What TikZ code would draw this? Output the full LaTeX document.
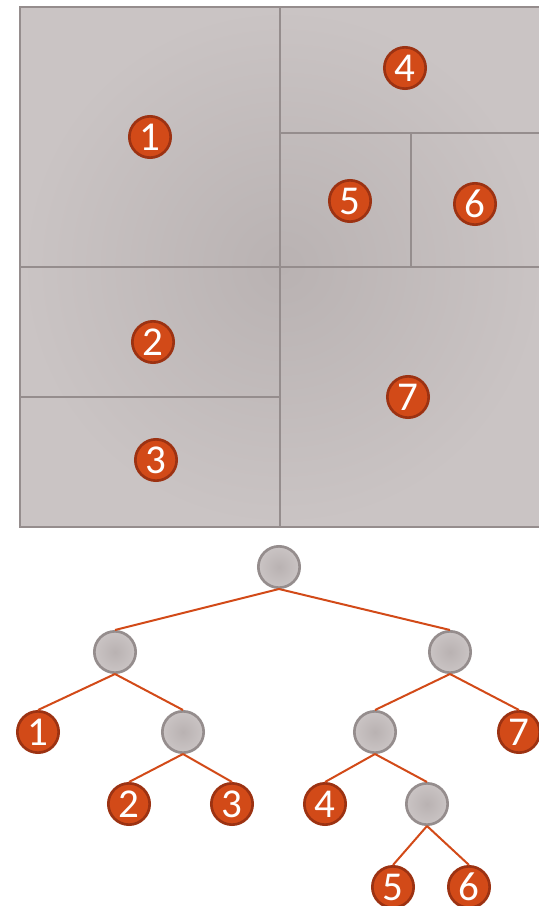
\documentclass[tikz,border=0pt]{standalone}
\usepackage{fontspec}
\setmainfont{Carlito}
\definecolor{leafred}{HTML}{D24A18}
\definecolor{leafrim}{HTML}{9C3212}
\definecolor{cellgrey}{HTML}{CAC4C4}
\definecolor{celldark}{HTML}{B9B2B2}
\definecolor{rimgrey}{HTML}{958D8D}
\tikzset{
  leaf/.style={circle, draw=leafrim, fill=leafred, line width=0.08cm, minimum size=1.24cm, inner sep=0pt, text=white, font=\fontsize{35}{35}\selectfont},
  split/.style={circle, draw=rimgrey, line width=0.08cm, minimum size=1.24cm, inner sep=0pt, shade, inner color=celldark, outer color=cellgrey},
  branch/.style={draw=leafred, line width=0.06cm},
  wall/.style={draw=rimgrey, line width=0.075cm}
}
\begin{document}
\begin{tikzpicture}[x=0.03cm,y=-0.03cm]
\useasboundingbox (0,0) rectangle (539,906);

% the partition
\shade[inner color=celldark, outer color=cellgrey] (20,7) rectangle (545,527);
\draw[wall] (20,7) rectangle (545,527);
\draw[wall] (280,7) -- (280,527);
\draw[wall] (20,267) -- (545,267);
\draw[wall] (280,133) -- (545,133);
\draw[wall] (411,133) -- (411,267);
\draw[wall] (20,397) -- (280,397);

\node[leaf] (c1) at (150,137) {1};
\node[leaf] (c2) at (153,342) {2};
\node[leaf] (c3) at (156,460) {3};
\node[leaf] (c4) at (405,68) {4};
\node[leaf] (c5) at (350,201) {5};
\node[leaf] (c6) at (475,204) {6};
\node[leaf] (c7) at (408,397) {7};

% the tree
\node[split] (root) at (279,567) {};
\node[split] (sl) at (115,652) {};
\node[split] (sr) at (450,652) {};
\node[split] (slr) at (183,732) {};
\node[split] (srl) at (375,732) {};
\node[split] (srlr) at (427,804) {};
\node[leaf] (t1) at (38,732) {1};
\node[leaf] (t7) at (519,732) {7};
\node[leaf] (t2) at (129,804) {2};
\node[leaf] (t3) at (232,804) {3};
\node[leaf] (t4) at (325,804) {4};
\node[leaf] (t5) at (393,887) {5};
\node[leaf] (t6) at (469,887) {6};

\draw[branch] (root.south) -- (sl.north);
\draw[branch] (root.south) -- (sr.north);
\draw[branch] (sl.south) -- (t1.north);
\draw[branch] (sl.south) -- (slr.north);
\draw[branch] (sr.south) -- (srl.north);
\draw[branch] (sr.south) -- (t7.north);
\draw[branch] (slr.south) -- (t2.north);
\draw[branch] (slr.south) -- (t3.north);
\draw[branch] (srl.south) -- (t4.north);
\draw[branch] (srl.south) -- (srlr.north);
\draw[branch] (srlr.south) -- (t5.north);
\draw[branch] (srlr.south) -- (t6.north);
\end{tikzpicture}
\end{document}
